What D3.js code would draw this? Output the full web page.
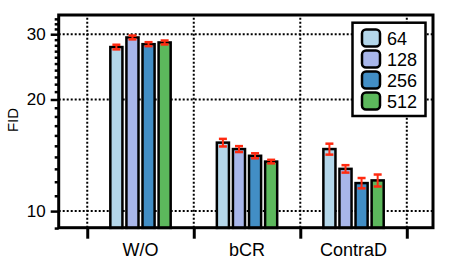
<!DOCTYPE html>
<html>
<head>
<meta charset="utf-8">
<script src="https://cdn.jsdelivr.net/npm/d3@7"></script>
<style>
  body { margin: 0; background: #fff; }
  text { font-family: "Liberation Sans", Arial, sans-serif; fill: #000; }
</style>
</head>
<body>
<div id="chart"></div>
<script>
// data
let methods = ["W/O", "bCR", "ContraD"]
let sizes = ["64", "128", "256", "512"]
let fid = [
  [27.7, 29.4, 28.2, 28.5],
  [15.3, 14.7, 14.1, 13.6],
  [14.7, 13.0, 11.9, 12.1]
]
let fidErr = [
  [0.4, 0.35, 0.35, 0.35],
  [0.36, 0.27, 0.22, 0.15],
  [0.5, 0.3, 0.38, 0.45]
]
let yTicks = [10, 20, 30]
let colors = ["#b4d7ea", "#a8b6ea", "#428ec5", "#5cb85c"]

var W = 457, H = 261
var margin = {top: 15, right: 24, bottom: 33.3, left: 58.7}

var svg = d3.select("#chart")
  .append("svg")
  .attr("width", W)
  .attr("height", H)

var x = d3.scaleLinear()
  .domain([-0.768, 2.746])
  .range([margin.left, W - margin.right])

var y = d3.scaleLog()
  .domain([9.02, 33.8])
  .range([H - margin.bottom, margin.top])

var x0 = margin.left, x1 = W - margin.right
var y0 = H - margin.bottom, y1 = margin.top

// gridlines
var bounds = [-0.5, 0.5, 1.5, 2.5]
svg.append("g")
  .selectAll("line")
  .data(bounds)
  .join("line")
  .attr("x1", d => x(d)).attr("x2", d => x(d))
  .attr("y1", y0).attr("y2", y1)
  .attr("stroke", "#000")
  .attr("stroke-width", 2)
  .attr("stroke-dasharray", "2,2")

svg.append("g")
  .selectAll("line")
  .data(yTicks)
  .join("line")
  .attr("x1", x0).attr("x2", x1)
  .attr("y1", d => y(d)).attr("y2", d => y(d))
  .attr("stroke", "#000")
  .attr("stroke-width", 2)
  .attr("stroke-dasharray", "2,2")

// bars
var pitch = 0.151
var groups = svg.append("g")
for (let i = 0; i < methods.length; i++) {
  for (let j = 0; j < sizes.length; j++) {
    let left = x(i - 2 * pitch + j * pitch)
    let slot = x(pitch) - x(0)
    groups.append("rect")
      .attr("x", left + 2)
      .attr("width", slot - 4)
      .attr("y", y(fid[i][j]))
      .attr("height", y0 + 3 - y(fid[i][j]))
      .attr("fill", colors[j])
      .attr("stroke", "#000")
      .attr("stroke-width", 2.5)
  }
}

// error bars
var errs = svg.append("g").attr("stroke", "#ff2a10")
for (let i = 0; i < methods.length; i++) {
  for (let j = 0; j < sizes.length; j++) {
    let cx = x(i - 1.5 * pitch + j * pitch)
    let lo = y(fid[i][j] - fidErr[i][j]), hi = y(fid[i][j] + fidErr[i][j])
    errs.append("line")
      .attr("x1", cx).attr("x2", cx).attr("y1", lo).attr("y2", hi)
      .attr("stroke-width", 2)
    errs.append("line")
      .attr("x1", cx - 4).attr("x2", cx + 4).attr("y1", lo).attr("y2", lo)
      .attr("stroke-width", 2.5)
    errs.append("line")
      .attr("x1", cx - 4).attr("x2", cx + 4).attr("y1", hi).attr("y2", hi)
      .attr("stroke-width", 2.5)
  }
}

// clip the bars under the bottom axis
svg.append("rect")
  .attr("x", 0).attr("y", y0 + 1.5)
  .attr("width", W).attr("height", H - y0)
  .attr("fill", "#fff")

// y axis, log minor ticks
var minor = d3.range(9, 34).filter(d => yTicks.indexOf(d) < 0)
var yAxis = svg.append("g")
  .attr("transform", `translate(${x0},0)`)
yAxis.call(d3.axisLeft(y).tickValues(minor).tickSize(4).tickFormat(""))
yAxis.selectAll(".tick line").attr("stroke-width", 2.5)
yAxis.select(".domain").remove()

var yMajor = svg.append("g")
  .attr("transform", `translate(${x0},0)`)
  .call(d3.axisLeft(y).tickValues(yTicks).tickSize(8).tickPadding(5).tickFormat(d3.format("d")))
yMajor.select(".domain").remove()
yMajor.selectAll(".tick line").attr("stroke-width", 2.5)
yMajor.selectAll(".tick text")
  .attr("font-size", 17)
  .attr("font-family", "Liberation Sans, Arial, sans-serif")

// x axis
var xAxis = svg.append("g")
  .attr("transform", `translate(0,${y0})`)
  .call(d3.axisBottom(x).tickValues(bounds).tickSize(11).tickFormat(""))
xAxis.select(".domain").remove()
xAxis.selectAll(".tick line").attr("stroke-width", 3)

svg.append("g")
  .selectAll("text")
  .data(methods)
  .join("text")
  .attr("x", (d, i) => x(i))
  .attr("y", 256)
  .attr("text-anchor", "middle")
  .attr("font-size", 18)
  .text(d => d)

// frame
svg.append("rect")
  .attr("x", x0).attr("y", y1)
  .attr("width", x1 - x0).attr("height", y0 - y1)
  .attr("fill", "none")
  .attr("stroke", "#000")
  .attr("stroke-width", 3)

// y label
svg.append("text")
  .attr("transform", "translate(18,120) rotate(-90)")
  .attr("text-anchor", "middle")
  .attr("font-size", 15)
  .text("FID")

// legend
var lg = svg.append("g")
lg.append("rect")
  .attr("x", 352.5).attr("y", 22.7)
  .attr("width", 73).attr("height", 93.3)
  .attr("fill", "#fff")
  .attr("stroke", "#000")
  .attr("stroke-width", 2.5)

sizes.forEach(function(s, j) {
  let cy = 38 + j * 21
  lg.append("rect")
    .attr("x", 362).attr("y", cy - 8.5)
    .attr("width", 18).attr("height", 17)
    .attr("rx", 4)
    .attr("fill", colors[j])
    .attr("stroke", "#000")
    .attr("stroke-width", 2.5)
  lg.append("text")
    .attr("x", 387).attr("y", cy + 6.5)
    .attr("font-size", 18)
    .text(s)
})
</script>
</body>
</html>
